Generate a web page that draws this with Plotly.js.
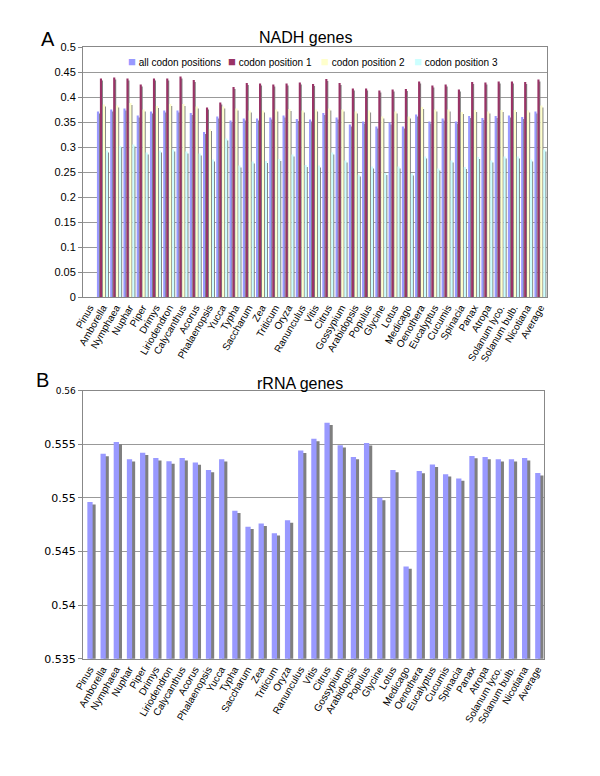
<!DOCTYPE html>
<html><head><meta charset="utf-8">
<script src="https://cdn.plot.ly/plotly-3.0.1.min.js"></script>
<style>html,body{margin:0;padding:0;background:#fff}#chart{width:600px;height:776px}</style>
</head><body><div id="chart"></div>
<script>
const species = ['Pinus','Amborella','Nymphaea','Nuphar','Piper','Drimys','Liriodendron','Calycanthus','Acorus','Phalaenopsis','Yucca','Typha','Saccharum','Zea','Triticum','Oryza','Ranunculus','Vitis','Citrus','Gossypium','Arabidopsis','Populus','Glycine','Lotus','Medicago','Oenothera','Eucalyptus','Cucumis','Spinacia','Panax','Atropa','Solanum lyco.','Solanum bulb.','Nicotiana','Average'];

const nadhAll  = [null,0.371,0.375,0.377,0.363,0.371,0.373,0.373,0.368,0.330,0.361,0.353,0.357,0.357,0.359,0.363,0.356,0.355,0.368,0.359,0.345,0.351,0.341,0.349,0.341,0.365,0.351,0.357,0.351,0.362,0.358,0.362,0.363,0.360,0.371];
const nadhPos1 = [null,0.437,0.439,0.437,0.425,0.437,0.437,0.441,0.434,0.379,0.389,0.420,0.428,0.427,0.425,0.427,0.429,0.426,0.436,0.428,0.417,0.417,0.413,0.415,0.416,0.431,0.423,0.425,0.415,0.430,0.429,0.431,0.431,0.430,0.435];
const nadhPos2 = [null,0.385,0.383,0.388,0.375,0.382,0.386,0.386,0.381,0.336,0.381,0.377,0.373,0.373,0.375,0.376,0.373,0.375,0.377,0.375,0.371,0.373,0.361,0.371,0.361,0.380,0.375,0.375,0.370,0.374,0.371,0.374,0.374,0.373,0.383];
const nadhPos3 = [null,0.293,0.302,0.305,0.289,0.293,0.295,0.291,0.287,0.275,0.317,0.263,0.271,0.272,0.276,0.285,0.264,0.263,0.289,0.273,0.245,0.261,0.248,0.261,0.247,0.281,0.257,0.273,0.260,0.280,0.273,0.281,0.281,0.275,0.295];

const rrna = [0.5496,0.5541,0.5552,0.5536,0.5542,0.5537,0.5534,0.5537,0.5533,0.5526,0.5536,0.5488,0.5473,0.5476,0.5467,0.5479,0.5544,0.5555,0.5570,0.5549,0.5538,0.5551,0.5500,0.5526,0.5436,0.5525,0.5531,0.5522,0.5518,0.5539,0.5538,0.5536,0.5536,0.5537,0.5523];

const nadhNames = ['all codon positions','codon position 1','codon position 2','codon position 3'];
const nadhTickVals = [0,0.05,0.1,0.15,0.2,0.25,0.3,0.35,0.4,0.45,0.5];
const rrnaTickVals = [0.535,0.54,0.545,0.55,0.555,0.56];
const rrnaTickText = ['0.535','0.54','0.545','0.55','0.555','<span style="font-size:9px">0.56</span>'];

const nadhSeries = [nadhAll, nadhPos1, nadhPos2, nadhPos3];
const colors = ['#9999FF','#993366','#FFFFCC','#CCFFFF'];
const shadowColor = '#7f7f7f';

const traces = [];
const barW = 0.16, step = 0.225, start = -0.45, shOff = 0.07, shDrop = 0.004;
nadhSeries.forEach((vals, i) => {
  const off = start + i * step;
  traces.push({type:'bar', x: species, y: vals.map(v => v == null ? null : v - shDrop),
    xaxis:'x', yaxis:'y', offset: off + shOff, width: barW,
    marker:{color: shadowColor, line:{width:0}}, showlegend:false, hoverinfo:'skip'});
  traces.push({type:'bar', x: species, y: vals, name: nadhNames[i],
    xaxis:'x', yaxis:'y', offset: off, width: barW, showlegend:false,
    marker:{color: colors[i], line:{width:0}}});
});
traces.push({type:'bar', x: species, y: rrna.map(v => v - 0.00022), xaxis:'x2', yaxis:'y2',
  offset: 0.06, width: 0.4, marker:{color: shadowColor, line:{width:0}}, showlegend:false, hoverinfo:'skip'});
traces.push({type:'bar', x: species, y: rrna, xaxis:'x2', yaxis:'y2', name:'rRNA',
  offset: -0.17, width: 0.4, marker:{color:'#9999FF', line:{width:0}}, showlegend:false});

// legend drawn as text entries with coloured square glyphs
const legendX = [126, 226, 319, 412];
const legendAnn = nadhNames.map((n, i) => ({
  text: '<span style="color:' + colors[i] + ';font-size:13px">■</span> ' + n,
  xref:'paper', yref:'paper', x: legendX[i]/600, y: 1-62/776, xanchor:'left', yanchor:'middle',
  showarrow:false, font:{size:10, color:'#000'}
}));

const axisCommon = {showline:true, linecolor:'#888', linewidth:1, mirror:true};
const layout = {
  width:600, height:776, margin:{l:0,r:0,t:0,b:0},
  paper_bgcolor:'#fff', plot_bgcolor:'#fff',
  barmode:'overlay', showlegend:false,
  font:{family:'Liberation Sans, Arial, sans-serif', color:'#000'},
  xaxis: Object.assign({}, axisCommon, {domain:[83/600, 547/600], anchor:'y', type:'category',
    range:[-0.5, 34.5], tickangle:-60, tickfont:{size:10}, ticks:'', showgrid:false}),
  yaxis: Object.assign({}, axisCommon, {domain:[1-297/776, 1-47/776], anchor:'x', range:[0,0.5],
    tickvals: nadhTickVals, showgrid:true, gridcolor:'#999', gridwidth:1, ticks:'outside', ticklen:4, tickcolor:'#888',
    tickfont:{size:11}, zeroline:false}),
  xaxis2: Object.assign({}, axisCommon, {domain:[83/600, 544/600], anchor:'y2', type:'category',
    range:[-0.5, 34.5], tickangle:-60, tickfont:{size:10}, ticks:'', showgrid:false}),
  yaxis2: Object.assign({}, axisCommon, {domain:[1-658.7/776, 1-390.5/776], anchor:'x2', range:[0.535,0.56],
    tickvals: rrnaTickVals, ticktext: rrnaTickText, showgrid:true, gridcolor:'#999', gridwidth:1, ticks:'outside', ticklen:4, tickcolor:'#888',
    tickfont:{size:11, family:'DejaVu Sans, Verdana, sans-serif'}, zeroline:false}),
  annotations: legendAnn.concat([
    {text:'A', xref:'paper', yref:'paper', x:48/600, y:1-39/776, showarrow:false, font:{size:20}, xanchor:'center', yanchor:'middle'},
    {text:'NADH genes', xref:'paper', yref:'paper', x:305/600, y:1-37/776, showarrow:false, font:{size:16}, xanchor:'center', yanchor:'middle'},
    {text:'B', xref:'paper', yref:'paper', x:42/600, y:1-380/776, showarrow:false, font:{size:20}, xanchor:'center', yanchor:'middle'},
    {text:'rRNA genes', xref:'paper', yref:'paper', x:300/600, y:1-383/776, showarrow:false, font:{size:16}, xanchor:'center', yanchor:'middle'}
  ])
};
Plotly.newPlot('chart', traces, layout, {displayModeBar:false, staticPlot:true});
</script>
</body></html>
